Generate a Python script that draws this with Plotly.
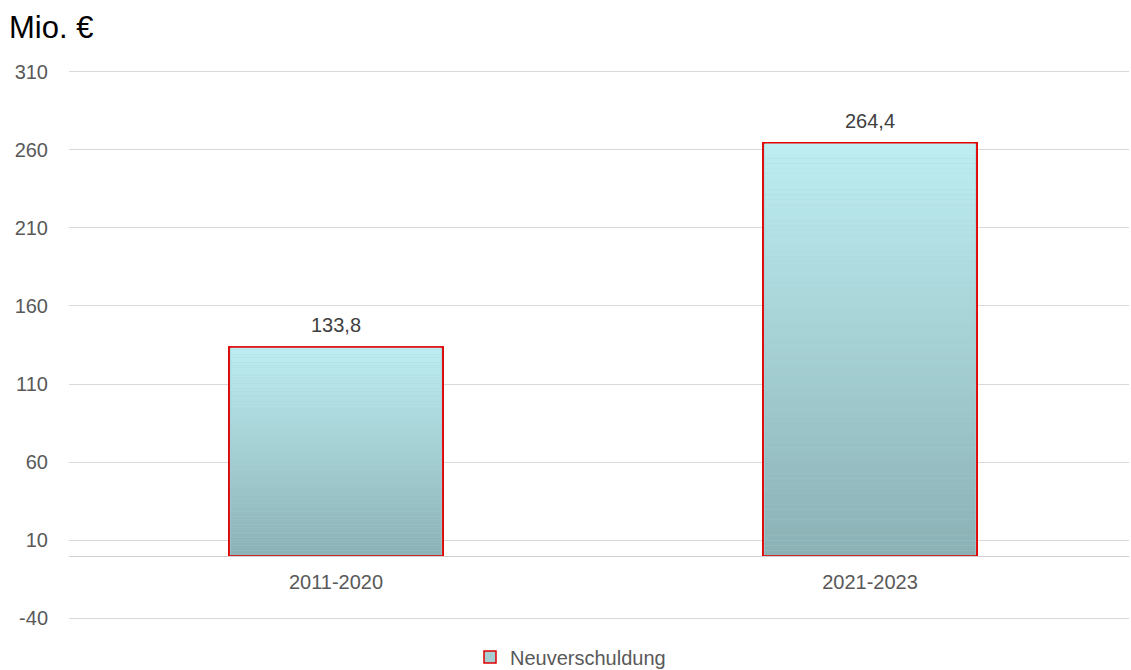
import plotly.graph_objects as go

categories = ["2011-2020", "2021-2023"]
values = [133.8, 264.4]
value_labels = ["133,8", "264,4"]
series_name = "Neuverschuldung"
unit_label = "Mio. €"
y_ticks = [-40, 10, 60, 110, 160, 210, 260, 310]
y_tick_text = ["-40", "10", "60", "110", "160", "210", "260", "310"]

top_rgb = (190, 238, 242)
bottom_rgb = (139, 177, 181)
N = 80
BAR_W = 0.401

Y_MIN, Y_MAX = -41, 311
PLOT_TOP, PLOT_H, PLOT_L, PLOT_W = 70, 550, 69, 1060

fig = go.Figure()

# base bar (legend entry + outline)
fig.add_trace(go.Bar(
    x=categories, y=values, name=series_name, width=BAR_W,
    marker=dict(color="rgb(165,207,211)", line=dict(color="#e00000", width=1.5)),
    showlegend=True, hoverinfo="skip",
))

# gradient slices
for i in range(N):
    f = (i + 0.5) / N
    c = tuple(round(bottom_rgb[k] + (top_rgb[k] - bottom_rgb[k]) * f) for k in range(3))
    fig.add_trace(go.Bar(
        x=categories, y=[v / N * 1.01 for v in values],
        base=[v * i / N for v in values], width=BAR_W - 0.006,
        marker=dict(color="rgb(%d,%d,%d)" % c, line=dict(width=0)),
        showlegend=False, hoverinfo="skip",
    ))

# outline on top
fig.add_trace(go.Bar(
    x=categories, y=values, width=BAR_W,
    marker=dict(color="rgba(0,0,0,0)", line=dict(color="#e00000", width=1.5)),
    showlegend=False, hoverinfo="skip",
))

# data labels
for cat, v, lab in zip(categories, values, value_labels):
    fig.add_annotation(x=cat, y=v, text=lab, showarrow=False, yanchor="bottom",
                       yshift=9, font=dict(size=20, color="#404040"))

# unit label
fig.add_annotation(xref="paper", yref="paper", x=(7 - PLOT_L) / PLOT_W,
                   y=(PLOT_TOP + PLOT_H - 27) / PLOT_H,
                   xanchor="left", yanchor="middle", text=unit_label, showarrow=False,
                   font=dict(size=31, color="#000000"))

fig.update_layout(
    barmode="overlay",
    width=1131, height=670,
    margin=dict(l=PLOT_L, r=1131 - PLOT_L - PLOT_W, t=PLOT_TOP,
                b=670 - PLOT_TOP - PLOT_H, autoexpand=False),
    paper_bgcolor="white", plot_bgcolor="white",
    separators=",.",
    font=dict(family="Liberation Sans, Arial, sans-serif", color="#595959", size=20),
    showlegend=True,
    legend=dict(orientation="h", x=(470 - PLOT_L) / PLOT_W, xanchor="left",
                y=(PLOT_TOP + PLOT_H - 657) / PLOT_H,
                yanchor="middle", font=dict(size=20, color="#595959"), itemwidth=30),
    xaxis=dict(anchor="free", position=(0 - Y_MIN) / (Y_MAX - Y_MIN), showline=True,
               range=[-0.5, 1.485],
               linecolor="#d0d0d0", linewidth=1, ticks="", showgrid=False,
               ticklabelstandoff=8, tickfont=dict(size=20, color="#595959")),
    yaxis=dict(range=[Y_MIN, Y_MAX], tickvals=y_ticks, ticktext=y_tick_text,
               showgrid=True, gridcolor="#d9d9d9",
               gridwidth=1, zeroline=False, ticks="", showline=False,
               ticklabelstandoff=20, tickfont=dict(size=20, color="#595959")),
)

fig.write_html("out.html", config={"displayModeBar": False},
               post_script="document.body.style.margin='0';document.body.style.padding='0';")
